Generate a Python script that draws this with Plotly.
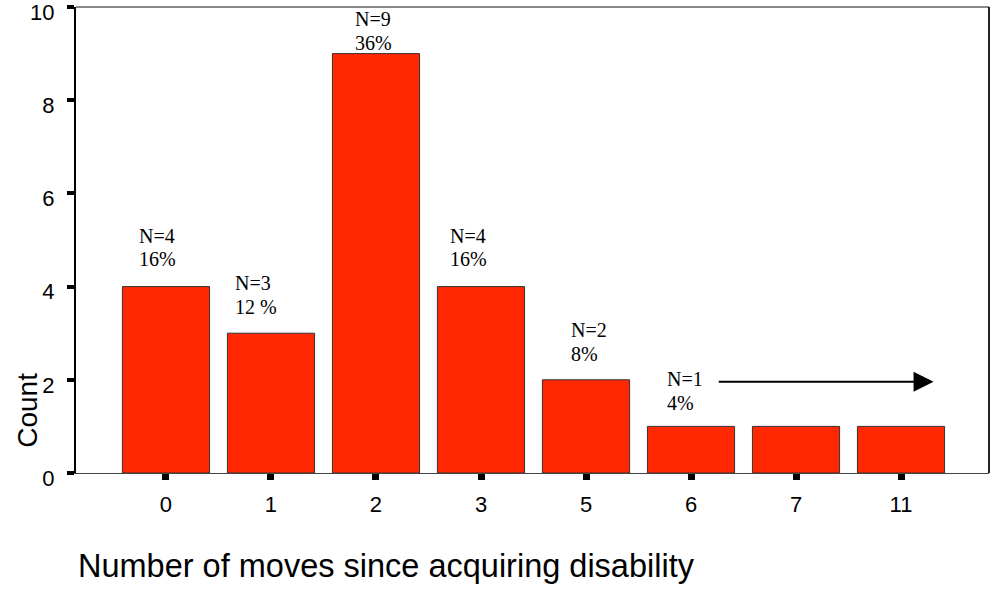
import plotly.graph_objects as go

# ---- data ----
categories = ["0", "1", "2", "3", "5", "6", "7", "11"]
counts = [4, 3, 9, 4, 2, 1, 1, 1]
n_labels = ["N=4", "N=3", "N=9", "N=4", "N=2", "N=1"]
pct_labels = ["16%", "12 %", "36%", "16%", "8%", "4%"]
# label placement offsets (category units / count units) relative to each bar
label_dx = [-0.28, -0.36, -0.22, -0.31, -0.16, -0.25]
label_dy_n = [1.09, 1.08, 0.74, 1.09, 1.07, 1.02]
label_dy_p = [0.59, 0.56, 0.23, 0.59, 0.55, 0.50]

x_title = "Number of moves since acquiring disability"
y_title = "Count"

positions = list(range(len(categories)))

fig = go.Figure()
fig.add_trace(go.Bar(
    x=positions, y=counts, width=0.83,
    marker=dict(color="#FF2800", line=dict(color="#333333", width=1)),
    showlegend=False, hoverinfo="skip",
))

serif = dict(family="Liberation Serif, Times New Roman, serif", size=20, color="black")
for i, (nl, pl) in enumerate(zip(n_labels, pct_labels)):
    fig.add_annotation(x=positions[i] + label_dx[i], y=counts[i] + label_dy_n[i],
                       text=nl, showarrow=False, xanchor="left", yanchor="middle", font=serif)
    fig.add_annotation(x=positions[i] + label_dx[i], y=counts[i] + label_dy_p[i],
                       text=pl, showarrow=False, xanchor="left", yanchor="middle", font=serif)

# arrow pointing across the N=1 bars
last = len(categories) - 1
fig.add_annotation(x=positions[last] + 0.31, y=counts[last] + 0.96,
                   ax=positions[5] + 0.25, ay=counts[last] + 0.96,
                   xref="x", yref="y", axref="x", ayref="y",
                   text="", showarrow=True, arrowhead=2, arrowsize=2,
                   arrowwidth=2, arrowcolor="black")

sans = "Liberation Sans, Arial, sans-serif"
fig.add_annotation(xref="paper", yref="paper", x=0, y=-0.2, xanchor="left", yanchor="middle",
                   text=x_title, showarrow=False, font=dict(family=sans, size=32.5, color="black"))
fig.add_annotation(xref="paper", yref="paper", x=-0.054, y=0.135, xanchor="center", yanchor="middle",
                   text=y_title, textangle=-90, showarrow=False,
                   font=dict(family=sans, size=28, color="black"))

# frame: top grey, right dark
fig.add_shape(type="line", xref="paper", yref="paper", x0=0, x1=1, y0=1, y1=1,
              line=dict(color="#888888", width=2))
fig.add_shape(type="line", xref="paper", yref="paper", x0=1, x1=1, y0=0, y1=1,
              line=dict(color="#222222", width=2))

fig.update_xaxes(
    range=[-0.857, 7.838], tickmode="array", tickvals=positions, ticktext=categories,
    showline=True, linecolor="#444444", linewidth=1,
    ticks="outside", ticklen=6, tickwidth=7, tickcolor="black",
    tickfont=dict(family=sans, size=22, color="black"), ticklabelstandoff=6,
    showgrid=False, zeroline=False, automargin=False,
)
fig.update_yaxes(
    range=[0, 10], dtick=2, tick0=0,
    showline=True, linecolor="black", linewidth=2,
    ticks="outside", ticklen=7, tickwidth=4, tickcolor="black",
    tickfont=dict(family=sans, size=22, color="black"), ticklabelstandoff=8,
    ticklabeloverflow="allow", ticklabelshift=5,
    showgrid=False, zeroline=False, automargin=False,
)
fig.update_layout(
    width=992, height=590,
    margin=dict(l=76, r=3, t=7, b=117, autoexpand=False),
    plot_bgcolor="white", paper_bgcolor="white",
    bargap=0.17,
)
fig.write_html("out.html", config={"displayModeBar": False},
               post_script="document.body.style.margin='0px';")
